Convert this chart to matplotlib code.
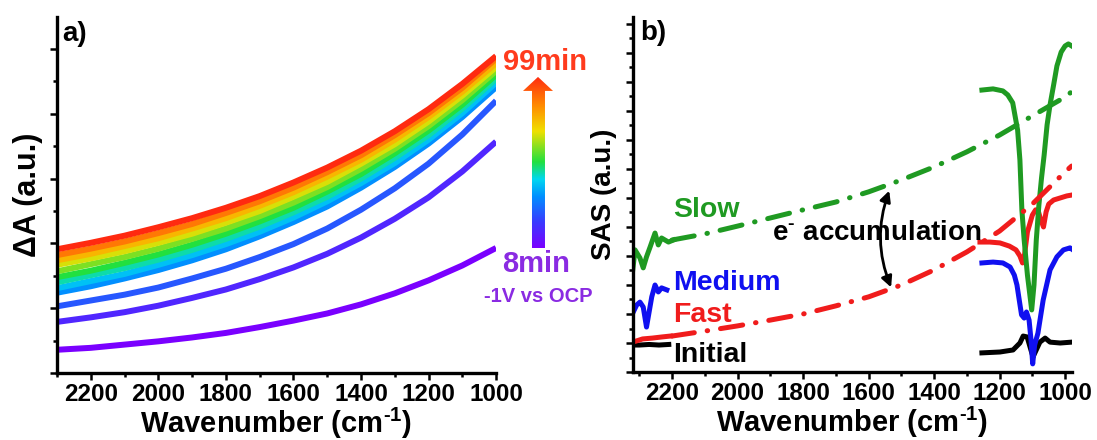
import numpy as np
import matplotlib.pyplot as plt
from matplotlib.colors import LinearSegmentedColormap
from matplotlib.patches import Polygon
from matplotlib.ticker import MultipleLocator

plt.rcParams["font.family"] = "Liberation Sans"
plt.rcParams["font.weight"] = "bold"
plt.rcParams["axes.labelweight"] = "bold"
plt.rcParams["mathtext.fontset"] = "custom"
plt.rcParams["mathtext.rm"] = "Liberation Sans:bold"
plt.rcParams["mathtext.bf"] = "Liberation Sans:bold"
plt.rcParams["mathtext.default"] = "bf"

# ------------------------------------------------------------
# a) transient absorption at -1 V vs OCP, 8 min -> 99 min
# ------------------------------------------------------------
wn_a = [2300, 2200, 2100, 2000, 1900, 1800, 1700, 1600, 1500, 1400, 1300, 1200, 1100, 1000]

dA_spectra = [
    [0.36, 0.39, 0.44, 0.49, 0.55, 0.62, 0.71, 0.81, 0.92, 1.06, 1.23, 1.43, 1.66, 1.93],   # 8 min
    [0.79, 0.86, 0.94, 1.04, 1.16, 1.29, 1.45, 1.63, 1.84, 2.09, 2.38, 2.71, 3.11, 3.57],
    [1.03, 1.12, 1.21, 1.32, 1.46, 1.61, 1.79, 1.99, 2.23, 2.52, 2.85, 3.23, 3.68, 4.20],
    [1.24, 1.34, 1.46, 1.59, 1.74, 1.91, 2.11, 2.33, 2.57, 2.86, 3.18, 3.54, 3.95, 4.41],
    [1.31, 1.42, 1.53, 1.67, 1.82, 1.99, 2.18, 2.40, 2.65, 2.93, 3.24, 3.60, 4.01, 4.48],
    [1.40, 1.51, 1.62, 1.75, 1.90, 2.07, 2.26, 2.48, 2.72, 3.00, 3.32, 3.67, 4.08, 4.54],
    [1.48, 1.58, 1.70, 1.83, 1.98, 2.15, 2.34, 2.55, 2.80, 3.07, 3.39, 3.74, 4.14, 4.60],
    [1.57, 1.68, 1.79, 1.92, 2.07, 2.23, 2.42, 2.63, 2.87, 3.15, 3.46, 3.81, 4.21, 4.66],
    [1.67, 1.77, 1.88, 2.01, 2.15, 2.32, 2.50, 2.72, 2.95, 3.23, 3.53, 3.88, 4.28, 4.72],
    [1.74, 1.84, 1.96, 2.08, 2.23, 2.39, 2.58, 2.79, 3.03, 3.29, 3.60, 3.95, 4.34, 4.78],
    [1.82, 1.92, 2.03, 2.16, 2.30, 2.47, 2.65, 2.86, 3.10, 3.36, 3.67, 4.01, 4.40, 4.85],
    [1.91, 2.01, 2.12, 2.25, 2.39, 2.55, 2.73, 2.94, 3.17, 3.43, 3.73, 4.07, 4.46, 4.89],   # 99 min
]
spectrum_pos = [0.0, 0.1, 0.2, 0.3, 0.37, 0.44, 0.5, 0.58, 0.66, 0.75, 0.86, 1.0]

# ------------------------------------------------------------
# b) species associated spectra
# ------------------------------------------------------------
wn_fit = [2200, 2100, 2000, 1900, 1800, 1700, 1600, 1500, 1400, 1300, 1200, 1100, 1000, 980]
slow_fit = [4.55, 4.76, 5.03, 5.31, 5.59, 5.86, 6.21, 6.62, 7.07, 7.59, 8.17, 8.83, 9.48, 9.66]
fast_fit = [1.24, 1.41, 1.59, 1.79, 2.00, 2.28, 2.59, 3.00, 3.52, 4.14, 4.86, 5.79, 6.90, 7.10]

wn_hi_slow = [2320, 2313, 2298, 2288, 2278, 2267, 2252, 2242, 2232, 2211, 2196]
slow_hi = [3.52, 4.21, 3.93, 3.59, 3.97, 4.31, 4.79, 4.38, 4.62, 4.48, 4.55]
wn_hi_med = [2320, 2308, 2298, 2288, 2278, 2262, 2252, 2242, 2232, 2216]
med_hi = [2.03, 2.31, 2.41, 2.24, 1.55, 2.59, 3.00, 2.76, 2.90, 2.83]
wn_hi_fast = [2320, 2290, 2260, 2230, 2205]
fast_hi = [1.03, 1.14, 1.17, 1.21, 1.24]
wn_hi_init = [2320, 2300, 2270, 2240, 2210]
init_hi = [0.93, 0.93, 0.95, 0.93, 0.95]

wn_lo_slow = [1254, 1220, 1190, 1175, 1160, 1145, 1138, 1132, 1125, 1115, 1102, 1095,
              1088, 1080, 1072, 1064, 1055, 1046, 1035, 1025, 1012, 1000, 990, 980]
slow_lo = [9.72, 9.76, 9.69, 9.55, 9.28, 8.34, 7.31, 5.59, 4.55, 3.34, 2.14, 3.00,
           4.55, 5.76, 6.69, 7.48, 8.52, 9.21, 9.90, 10.55, 11.03, 11.24, 11.31, 11.24]
wn_lo_med = [1254, 1220, 1190, 1168, 1155, 1147, 1140, 1133, 1125, 1118, 1110, 1104,
             1099, 1093, 1083, 1067, 1046, 1025, 1005, 985, 980]
med_lo = [3.76, 3.79, 3.76, 3.62, 3.34, 3.00, 2.48, 1.97, 1.86, 2.07, 1.79, 1.10,
          0.28, 0.93, 1.34, 2.48, 3.52, 3.97, 4.21, 4.28, 4.24]
wn_lo_fast = [1260, 1230, 1199, 1170, 1150, 1138, 1130, 1124, 1115, 1100, 1090, 1083,
              1074, 1066, 1058, 1050, 1035, 1015, 995, 980]
fast_lo = [4.48, 4.48, 4.45, 4.34, 4.21, 4.00, 3.76, 4.03, 4.83, 5.41, 5.59, 5.59,
           5.24, 5.00, 5.52, 5.79, 5.93, 6.00, 6.07, 6.10]
wn_lo_init = [1254, 1199, 1159, 1138, 1128, 1116, 1107, 1098, 1077, 1061, 1046, 1015, 980]
init_lo = [0.66, 0.69, 0.76, 1.00, 1.24, 1.21, 0.86, 0.52, 1.03, 1.17, 1.03, 1.00, 1.03]

GREEN = "#1f9a22"
BLUE = "#1010f0"
RED = "#f01c1c"

time_cmap = LinearSegmentedColormap.from_list("time", [
    (0.0, "#7a00ff"), (0.15, "#3a3aff"), (0.3, "#0090ff"), (0.4, "#00d8f0"),
    (0.5, "#20e040"), (0.68, "#f0e000"), (0.82, "#ff9000"), (1.0, "#ff2a10")])

fig = plt.figure(figsize=(10.97, 4.4), dpi=100)
ax_a = fig.add_axes([0.052, 0.152, 0.4002, 0.809])
ax_b = fig.add_axes([0.5768, 0.1545, 0.4001, 0.807])


def style_axis(ax):
    for side in ["top", "right"]:
        ax.spines[side].set_visible(False)
    for side in ["left", "bottom"]:
        ax.spines[side].set_linewidth(2.4)
    ax.tick_params(which="both", direction="out", width=1.8, labelsize=17.5, pad=2)
    ax.tick_params(which="major", length=5)
    ax.tick_params(which="minor", length=3)
    ax.xaxis.set_major_locator(MultipleLocator(200))
    ax.xaxis.set_minor_locator(MultipleLocator(100))
    ax.yaxis.set_major_locator(MultipleLocator(1))
    ax.yaxis.set_minor_locator(MultipleLocator(0.5))
    ax.set_yticklabels([])
    ax.set_xlabel(r"Wavenumber (cm$^{\text{-1}}$)", fontsize=21, labelpad=0)


# ---------------- panel a ----------------
for y, pos in zip(dA_spectra, spectrum_pos):
    ax_a.plot(wn_a, y, color=time_cmap(pos), lw=4.3, solid_capstyle="butt")

ax_a.set_xlim(2300, 1000)
ax_a.set_ylim(0, 5.49)
style_axis(ax_a)
ax_a.set_ylabel("ΔA (a.u.)", fontsize=22, labelpad=3)
ax_a.text(0.012, 0.99, "a)", transform=ax_a.transAxes, fontsize=20, va="top", ha="left")

# gradient arrow for elapsed time
arr_ax = fig.add_axes([520 / 1097, 1 - 250 / 440, 36 / 1097, 175 / 440])
arr_ax.set_xlim(0, 1)
arr_ax.set_ylim(0, 1)
arr_ax.axis("off")
grad = np.linspace(0, 1, 256).reshape(-1, 1)
img = arr_ax.imshow(grad, cmap=time_cmap, origin="lower", extent=(0, 1, 0.011, 0.989),
                    aspect="auto")
arrow_shape = Polygon([(0.333, 0.011), (0.694, 0.011), (0.694, 0.909), (0.917, 0.909),
                       (0.5, 0.989), (0.083, 0.909), (0.333, 0.909)],
                      closed=True, transform=arr_ax.transData, facecolor="none",
                      edgecolor="none")
arr_ax.add_patch(arrow_shape)
img.set_clip_path(arrow_shape)

fig.text(545 / 1097, 1 - 62 / 440, "99min", color="#ff3b1d", fontsize=21,
         ha="center", va="center")
fig.text(536 / 1097, 1 - 264 / 440, "8min", color="#8a2be2", fontsize=21,
         ha="center", va="center")
fig.text(538 / 1097, 1 - 296 / 440, "-1V vs OCP", color="#8a2be2", fontsize=14.5,
         ha="center", va="center")

# ---------------- panel b ----------------
dashdot = (0, (4.5, 2.6, 0.1, 2.6))
ax_b.plot(wn_hi_init, init_hi, color="black", lw=3.6)
ax_b.plot(wn_lo_init, init_lo, color="black", lw=3.6)
ax_b.plot(wn_hi_fast, fast_hi, color=RED, lw=3.6)
ax_b.plot(wn_lo_fast, fast_lo, color=RED, lw=3.6)
ax_b.plot(wn_hi_med, med_hi, color=BLUE, lw=3.6)
ax_b.plot(wn_lo_med, med_lo, color=BLUE, lw=3.6)
ax_b.plot(wn_hi_slow, slow_hi, color=GREEN, lw=3.6)
ax_b.plot(wn_lo_slow, slow_lo, color=GREEN, lw=3.6)
ax_b.plot(wn_fit, fast_fit, color=RED, lw=3.6, linestyle=dashdot, dash_capstyle="round")
ax_b.plot(wn_fit, slow_fit, color=GREEN, lw=3.6, linestyle=dashdot, dash_capstyle="round")

ax_b.set_xlim(2320, 980)
ax_b.set_ylim(0, 12.24)
style_axis(ax_b)
ax_b.set_ylabel("SAS (a.u.)", fontsize=20, labelpad=4)
ax_b.text(0.016, 0.99, "b)", transform=ax_b.transAxes, fontsize=20, va="top", ha="left")

ax_b.text(2197, 5.59, "Slow", color=GREEN, fontsize=20.5, va="center", ha="left")
ax_b.text(2197, 3.07, "Medium", color=BLUE, fontsize=20.5, va="center", ha="left")
ax_b.text(2197, 1.97, "Fast", color=RED, fontsize=20.5, va="center", ha="left")
ax_b.text(2197, 0.59, "Initial", color="black", fontsize=20.5, va="center", ha="left")
ax_b.text(1895, 4.79, r"e$^{\text{-}}$ accumulation", color="black", fontsize=20,
          va="center", ha="left")
ax_b.annotate("", xy=(1528, 2.83), xytext=(1534, 6.34),
              arrowprops=dict(arrowstyle="<|-|>", color="black", lw=2,
                              mutation_scale=16,
                              connectionstyle="arc3,rad=0.2"))

fig.savefig("out.png", dpi=100)
